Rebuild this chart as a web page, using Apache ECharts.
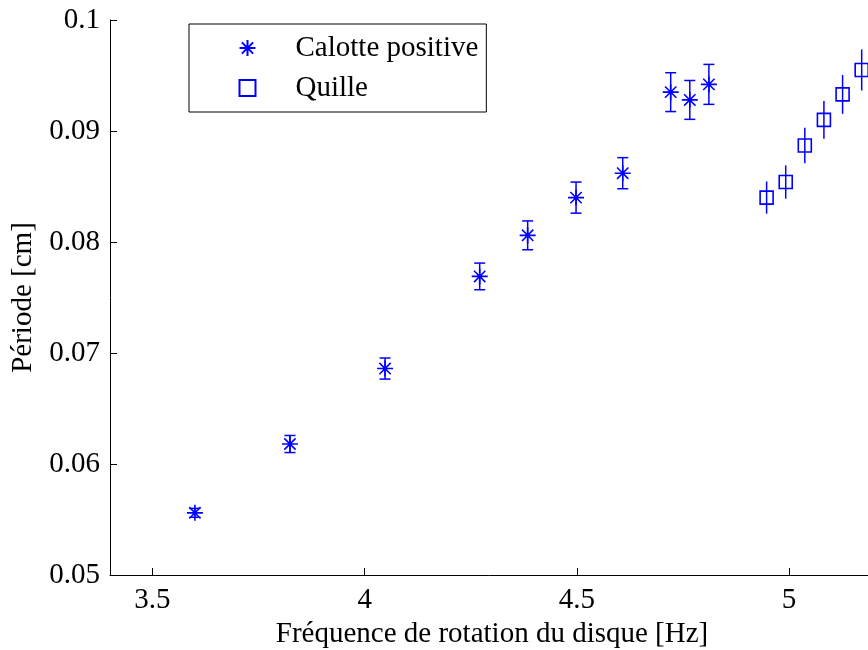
<!DOCTYPE html>
<html>
<head>
<meta charset="utf-8">
<script src="https://cdn.jsdelivr.net/npm/echarts@6/dist/echarts.min.js"></script>
<style>html,body{margin:0;padding:0;background:#fff}#c{width:868px;height:650px}</style>
</head>
<body>
<div id="c"></div>
<script>
// Calotte positive
var calotteX = [3.600, 3.824, 4.048, 4.271, 4.384, 4.498, 4.608, 4.721, 4.766, 4.811];
var calotteY = [0.0556, 0.0618, 0.0686, 0.0769, 0.0806, 0.0840, 0.0862, 0.0935, 0.0928, 0.0942];
var calotteErr = [0.0004, 0.00077, 0.00095, 0.0012, 0.0013, 0.0014, 0.0014, 0.00175, 0.00175, 0.0018];
// Quille
var quilleX = [4.947, 4.992, 5.037, 5.082, 5.126, 5.171];
var quilleY = [0.0840, 0.0854, 0.0887, 0.0910, 0.0933, 0.0955];
var quilleErr = [0.00145, 0.0015, 0.0016, 0.0017, 0.00175, 0.00185];
// Ticks
var xTicks = [3.5, 4, 4.5, 5];
var yTicks = [0.05, 0.06, 0.07, 0.08, 0.09, 0.1];

var FONT = 'Liberation Serif';
var FS = 29;
var BLUE = '#0000ff';
var ASTER = 'path://M0,-1L0,1M-1,0L1,0M-0.707,-0.707L0.707,0.707M-0.707,0.707L0.707,-0.707';

function zip(xs, ys, es) {
  return xs.map(function (x, i) { return es ? [x, ys[i], es[i]] : [x, ys[i]]; });
}

function errRender(capHalf) {
  return function (params, api) {
    var x = api.value(0), y = api.value(1), e = api.value(2);
    var lo = api.coord([x, y - e]);
    var hi = api.coord([x, y + e]);
    var st = { stroke: BLUE, lineWidth: 1.5 };
    var children = [{ type: 'line', shape: { x1: lo[0], y1: lo[1], x2: hi[0], y2: hi[1] }, style: st }];
    if (capHalf > 0) {
      children.push({ type: 'line', shape: { x1: lo[0] - capHalf, y1: lo[1], x2: lo[0] + capHalf, y2: lo[1] }, style: st });
      children.push({ type: 'line', shape: { x1: hi[0] - capHalf, y1: hi[1], x2: hi[0] + capHalf, y2: hi[1] }, style: st });
    }
    return { type: 'group', children: children };
  };
}

var chart = echarts.init(document.getElementById('c'), null, { renderer: 'canvas' });
chart.setOption({
  animation: false,
  backgroundColor: '#fff',
  textStyle: { fontFamily: FONT },
  grid: { left: 110, top: 20, width: 764, height: 555, containLabel: false, outerBoundsMode: 'none' },
  legend: {
    left: 189, top: 24, orient: 'vertical',
    borderColor: '#000', borderWidth: 1, borderRadius: 0,
    padding: [9, 8, 9, 48],
    itemWidth: 16, itemHeight: 16, itemGap: 10,
    textStyle: { fontFamily: FONT, fontSize: FS, lineHeight: 30, color: '#000', padding: [0, 0, 0, 35] },
    data: ['Calotte positive', 'Quille']
  },
  xAxis: {
    type: 'value', min: 3.4, max: 5.2,
    name: 'Fréquence de rotation du disque [Hz]', nameLocation: 'middle', nameGap: 44,
    nameTextStyle: { fontFamily: FONT, fontSize: FS, color: '#000' },
    axisLine: { show: true, lineStyle: { color: '#000', width: 1 } },
    axisTick: { show: true, inside: true, length: 7, customValues: xTicks, lineStyle: { color: '#000' } },
    axisLabel: { customValues: xTicks, fontFamily: FONT, fontSize: FS, color: '#000', margin: 11 },
    splitLine: { show: false }
  },
  yAxis: {
    type: 'value', min: 0.05, max: 0.1,
    name: 'Période [cm]', nameLocation: 'middle', nameGap: 70, nameRotate: 90,
    nameTextStyle: { fontFamily: FONT, fontSize: FS, color: '#000' },
    axisLine: { show: true, lineStyle: { color: '#000', width: 1 } },
    axisTick: { show: true, inside: true, length: 7, customValues: yTicks, lineStyle: { color: '#000' } },
    axisLabel: { customValues: yTicks, fontFamily: FONT, fontSize: FS, color: '#000', margin: 10,
      formatter: function (v) { return String(+v.toFixed(2)); } },
    splitLine: { show: false }
  },
  series: [
    {
      name: 'Calotte positive', type: 'scatter', data: zip(calotteX, calotteY),
      symbol: ASTER, symbolSize: 16,
      itemStyle: { color: 'none', borderColor: BLUE, borderWidth: 1.6, opacity: 1 },
      z: 3
    },
    {
      name: 'Quille', type: 'scatter', data: zip(quilleX, quilleY),
      symbol: 'rect', symbolSize: 13,
      itemStyle: { color: 'none', borderColor: BLUE, borderWidth: 1.6, opacity: 1 },
      z: 3
    },
    {
      name: 'errCalotte', type: 'custom', data: zip(calotteX, calotteY, calotteErr),
      renderItem: errRender(5.5), encode: { x: 0, y: 1 }, z: 2, silent: true
    },
    {
      name: 'errQuille', type: 'custom', data: zip(quilleX, quilleY, quilleErr),
      renderItem: errRender(0), encode: { x: 0, y: 1 }, z: 2, silent: true
    }
  ]
});
</script>
</body>
</html>
